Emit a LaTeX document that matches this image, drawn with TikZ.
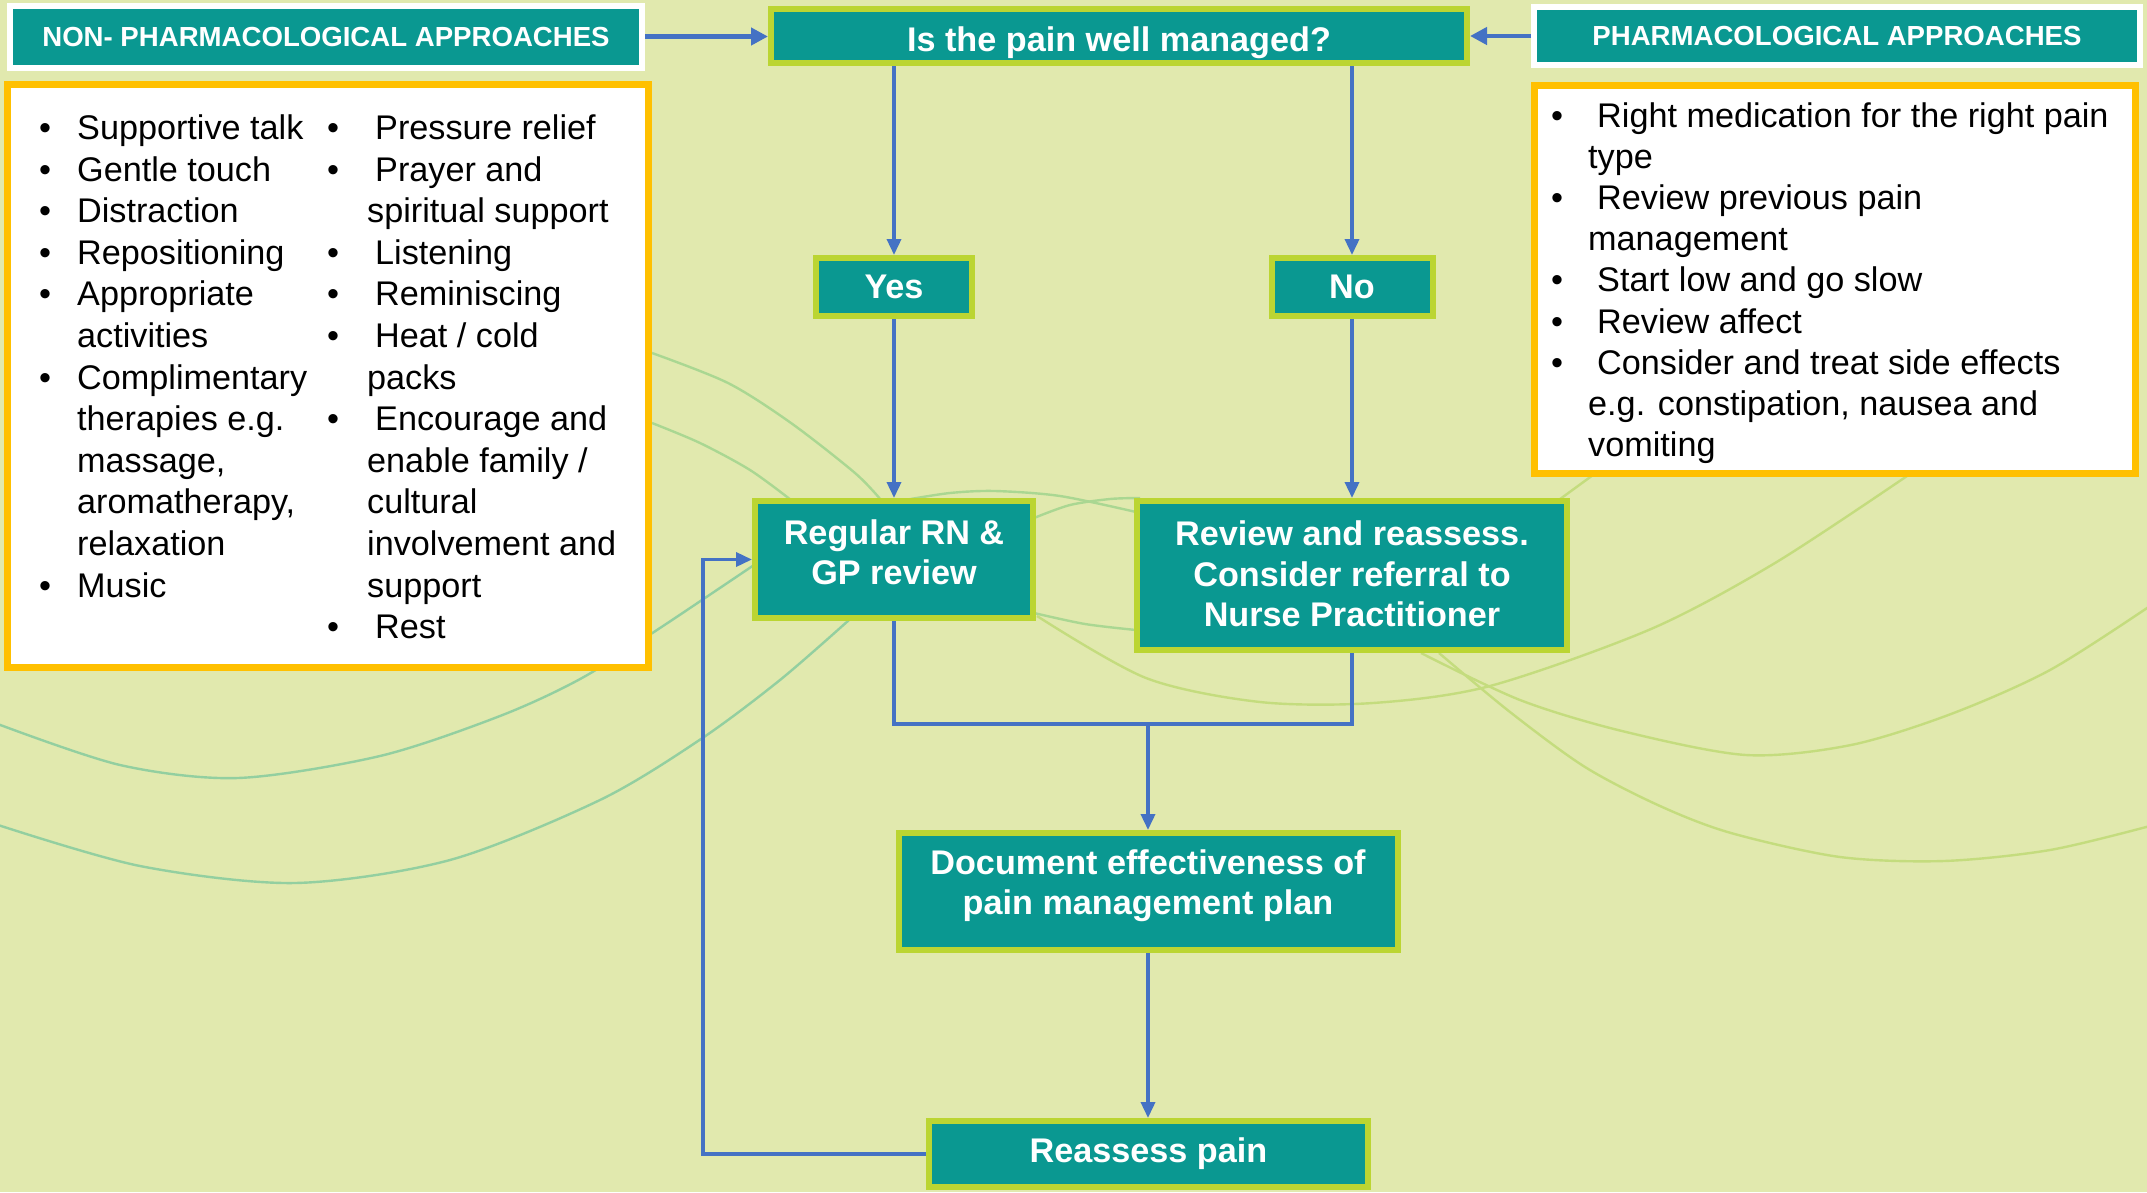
\documentclass[tikz,border=0pt]{standalone}
\usepackage{fontspec}
\setmainfont{Liberation Sans}
\usetikzlibrary{arrows.meta,calc}
\definecolor{bgcol}{HTML}{E1E9AE}
\definecolor{tealbox}{HTML}{0A9891}
\definecolor{limeedge}{HTML}{BBD532}
\definecolor{amberedge}{HTML}{FFC000}
\definecolor{flowblue}{HTML}{4472C4}
\definecolor{waveteal}{HTML}{93CFA0}
\definecolor{wavemid}{HTML}{AAD792}
\definecolor{waveyellow}{HTML}{C4DC7E}
% centred block of lines, moved up (positive) or down (negative) inside its box
\newcommand\liftlines[2]{\raisebox{#1}[\height][\depth]{\begin{tabular}{@{}c@{}}#2\end{tabular}}}
\begin{document}
\begin{tikzpicture}[x=1pt,y=-1pt,
  flowbox/.style={draw=limeedge, line width=6pt, fill=tealbox, text=white,
    font=\fontsize{34.2}{40.5}\selectfont\bfseries,
    inner sep=0pt, outer sep=3pt},
  headbox/.style={draw=white, line width=6pt, fill=tealbox, text=white,
    font=\fontsize{27.6}{33}\selectfont\bfseries, inner sep=0pt, outer sep=3pt},
  listbox/.style={draw=amberedge, line width=7pt, fill=white, inner sep=0pt},
  item/.style={anchor=base west, inner sep=0pt, font=\fontsize{34.2}{41}\selectfont},
  link/.style={draw=flowblue, line width=3.5pt},
  conn/.style={link, -{Triangle[length=16pt,width=14pt]}},
  hdrconn/.style={draw=flowblue, line width=4.5pt, -{Triangle[length=17pt,width=17pt]}},
  wave/.style={line width=2.4pt},
]
% canvas
\fill[bgcol] (0,0) rectangle (2147,1192);
\useasboundingbox (0,0) rectangle (2147,1192);

% decorative background waves
\draw[wave, waveteal] plot[smooth] coordinates {(-5,723) (120,765) (238,778) (380,756) (500,716) (582,678) (660,628) (754,565)};
\draw[wave, waveteal] plot[smooth] coordinates {(-5,824) (140,866) (295,883) (450,860) (600,800) (701,739) (780,680) (849,620)};
\draw[wave, wavemid] plot[smooth] coordinates {(652,353) (728,383) (791,423) (855,473) (881,500)};
\draw[wave, wavemid] plot[smooth] coordinates {(652,423) (700,443) (750,470) (791,500)};
\draw[wave, wavemid] plot[smooth] coordinates {(905,500) (950,493) (995,491) (1060,496) (1136,512)};
\draw[wave, wavemid] plot[smooth] coordinates {(1034,518) (1070,505) (1110,499) (1140,498)};
\draw[wave, wavemid] plot[smooth] coordinates {(1034,613) (1085,624) (1136,630)};
\draw[wave, waveyellow] (1556,502) -- (1593,475);
\draw[wave, waveyellow] plot[smooth] coordinates {(1037,616) (1146,678) (1260,702) (1373,703) (1490,686) (1651,629) (1775,563) (1907,476)};
\draw[wave, waveyellow] plot[smooth] coordinates {(1421,653) (1520,700) (1622,731) (1746,755) (1851,745) (1951,714) (2050,670) (2150,606)};
\draw[wave, waveyellow] plot[smooth] coordinates {(1439,653) (1510,712) (1585,767) (1660,806) (1731,833) (1840,857) (1944,861) (2050,850) (2150,826)};

% header tabs
\node[headbox, minimum width=632pt, minimum height=62pt] (nonph) at (326,36.5) {NON- PHARMACOLOGICAL APPROACHES};
\node[headbox, minimum width=606pt, minimum height=58pt] (ph) at (1837,36) {PHARMACOLOGICAL APPROACHES};

% flow boxes
\node[flowbox, minimum width=696pt, minimum height=54pt] (q) at (1119,36) {\liftlines{-7pt}{Is the pain well managed?}};
\node[flowbox, minimum width=156pt, minimum height=58pt] (yes) at (894,287) {Yes};
\node[flowbox, minimum width=161pt, minimum height=58pt] (no) at (1352,287) {No};
\node[flowbox, minimum width=278pt, minimum height=117pt] (rn) at (894,559.5) {\liftlines{3pt}{Regular RN \&\\GP review}};
\node[flowbox, minimum width=430pt, minimum height=149pt] (rv) at (1352,575.5) {\liftlines{-2.5pt}{Review and reassess.\\Consider referral to\\Nurse Practitioner}};
\node[flowbox, minimum width=499pt, minimum height=117pt] (doc) at (1148,891.5) {\liftlines{5pt}{Document effectiveness of\\pain management plan}};
\node[flowbox, minimum width=439pt, minimum height=66pt] (rp) at (1148.5,1154) {Reassess pain};

% list panels
\node[listbox, minimum width=641.5pt, minimum height=583pt] (nonlist) at (327.75,376) {};
\node[listbox, minimum width=601pt, minimum height=388pt] (phlist) at (1835,279.5) {};

% non-pharmacological measures, first column
\foreach \t [count=\i from 0] in {Supportive talk, Gentle touch, Distraction, Repositioning, Appropriate, activities, Complimentary, therapies e.g., {massage,}, {aromatherapy,}, relaxation, Music}
  \node[item] (na\i) at (77,{139.5+41.6*\i}) {\t};
\foreach \i in {0,1,2,3,4,6,11}
  \node[item] (nab\i) at (39,{139.5+41.6*\i}) {\textbullet};

% non-pharmacological measures, second column
\foreach \x/\t [count=\i from 0] in {375/{Pressure relief}, 375/{Prayer and}, 367/{spiritual support}, 375/{Listening}, 375/{Reminiscing}, 375/{Heat / cold}, 367/{packs}, 375/{Encourage and}, 367/{enable family /}, 367/{cultural}, 367/{involvement and}, 367/{support}, 375/{Rest}}
  \node[item] (nb\i) at (\x,{139.5+41.6*\i}) {\t};
\foreach \i in {0,1,3,4,5,7,12}
  \node[item] (nbb\i) at (327,{139.5+41.6*\i}) {\textbullet};

% pharmacological measures
\foreach \x/\t [count=\i from 0] in {1597/{Right medication for the right pain}, 1588/{type}, 1597/{Review previous pain}, 1588/{management}, 1597/{Start low and go slow}, 1597/{Review affect}, 1597/{Consider and treat side effects}, 1588/{e.g. constipation, nausea and}, 1588/{vomiting}}
  \node[item] (pa\i) at (\x,{127+41.2*\i}) {\t};
\foreach \i in {0,2,4,5,6}
  \node[item] (pab\i) at (1551,{127+41.2*\i}) {\textbullet};

% connectors
\draw[hdrconn] (nonph.east) -- (nonph.east -| q.west);
\draw[hdrconn] (ph.west) -- (ph.west -| q.east);
\draw[conn] (q.south -| yes.north) -- (yes.north);
\draw[conn] (q.south -| no.north) -- (no.north);
\draw[conn] (yes.south) -- (rn.north);
\draw[conn] (no.south) -- (rv.north);
\coordinate (mj) at (1148,724);
\draw[link] (rn.south) |- (mj);
\draw[link] (rv.south) |- (mj);
\draw[conn] (mj) -- (doc.north);
\draw[conn] (doc.south) -- (doc.south |- rp.north);
\coordinate (lp) at (703,1154);
\draw[conn] (rp.west) -| (lp) |- (rn.west);
\end{tikzpicture}
\end{document}
